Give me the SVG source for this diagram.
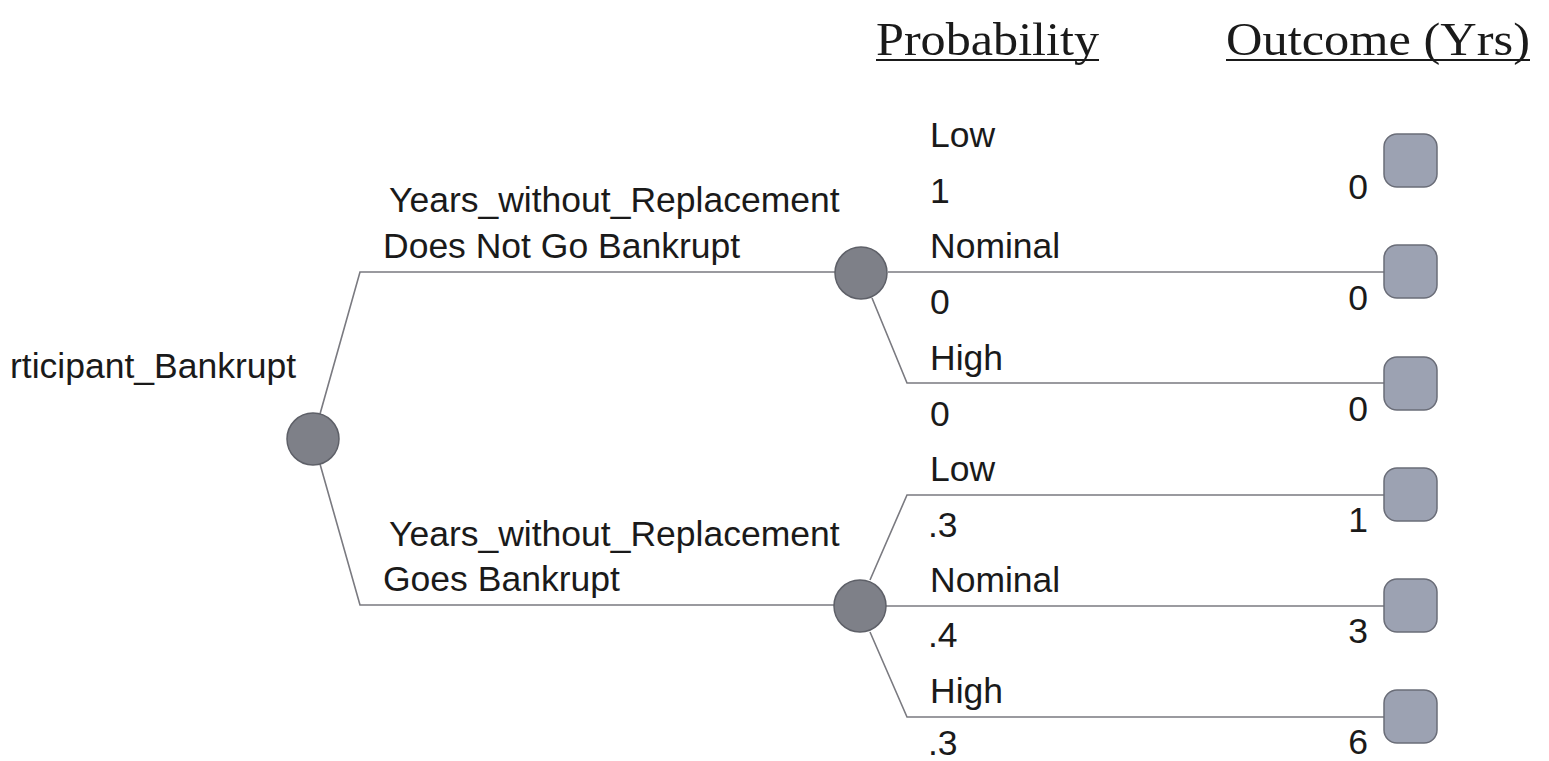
<svg xmlns="http://www.w3.org/2000/svg" width="1549" height="761" viewBox="0 0 1549 761">
  <style>
    .lbl { font-family: "Liberation Sans", Arial, sans-serif; font-size: 35.5px; fill: #1a1a1a; }
    .val { font-family: "Liberation Sans", Arial, sans-serif; font-size: 35.5px; fill: #1a1a1a; text-anchor: end; }
    .hdr { font-family: "Liberation Serif", "Times New Roman", serif; font-size: 47px; fill: #1a1a1a; }
    .edge { fill: none; stroke: #7a7a80; stroke-width: 1.6; }
    .chance { fill: #7e8088; stroke: #5e6068; stroke-width: 1.5; }
    .leaf { fill: #9ca2b2; stroke: #6a6d78; stroke-width: 1.5; }
    .rule { stroke: #1a1a1a; stroke-width: 2; }
  </style>
  <rect width="1549" height="761" fill="#ffffff"/>

  <!-- column headings -->
  <g id="headings">
    <text class="hdr" x="876" y="55" textLength="223" lengthAdjust="spacingAndGlyphs">Probability</text>
    <line class="rule" x1="876" y1="60" x2="1099" y2="60"/>
    <text class="hdr" x="1226" y="55" textLength="304" lengthAdjust="spacingAndGlyphs">Outcome (Yrs)</text>
    <line class="rule" x1="1226" y1="60" x2="1530" y2="60"/>
  </g>

  <!-- branches -->
  <g id="connectors">
    <polyline class="edge" points="320,414 360,272 836,272"/>
    <polyline class="edge" points="320,464 360,605 836,605"/>
    <line class="edge" x1="888" y1="272" x2="1384" y2="272"/>
    <polyline class="edge" points="872,298 907,383 1384,383"/>
    <polyline class="edge" points="870,580 907,495 1384,495"/>
    <line class="edge" x1="886" y1="606" x2="1384" y2="606"/>
    <polyline class="edge" points="870,632 907,717 1384,717"/>
  </g>

  <!-- root chance node -->
  <g id="root">
    <text class="lbl" x="10" y="378">rticipant_Bankrupt</text>
    <circle class="chance" cx="313" cy="439" r="26" fill="#8a9099"/>
  </g>

  <!-- first-level branch labels -->
  <g id="branch-no-bankrupt">
    <text class="lbl" x="389" y="212">Years_without_Replacement</text>
    <text class="lbl" x="383" y="258">Does Not Go Bankrupt</text>
    <circle class="chance" cx="861" cy="273" r="26"/>
  </g>
  <g id="branch-bankrupt">
    <text class="lbl" x="389" y="546">Years_without_Replacement</text>
    <text class="lbl" x="383" y="591">Goes Bankrupt</text>
    <circle class="chance" cx="860" cy="606" r="26"/>
  </g>

  <!-- outcome leaves, upper group -->
  <g id="leaf-1">
    <text class="lbl" x="930" y="147">Low</text>
    <text class="lbl" x="930" y="203">1</text>
    <text class="val" x="1368" y="199">0</text>
    <rect class="leaf" x="1384" y="134" width="53" height="53" rx="13"/>
  </g>
  <g id="leaf-2">
    <text class="lbl" x="930" y="258">Nominal</text>
    <text class="lbl" x="930" y="314">0</text>
    <text class="val" x="1368" y="310">0</text>
    <rect class="leaf" x="1384" y="245" width="53" height="53" rx="13"/>
  </g>
  <g id="leaf-3">
    <text class="lbl" x="930" y="370">High</text>
    <text class="lbl" x="930" y="426">0</text>
    <text class="val" x="1368" y="421">0</text>
    <rect class="leaf" x="1384" y="357" width="53" height="53" rx="13"/>
  </g>

  <!-- outcome leaves, lower group -->
  <g id="leaf-4">
    <text class="lbl" x="930" y="481">Low</text>
    <text class="lbl" x="928" y="537">.3</text>
    <text class="val" x="1368" y="532">1</text>
    <rect class="leaf" x="1384" y="468" width="53" height="53" rx="13"/>
  </g>
  <g id="leaf-5">
    <text class="lbl" x="930" y="592">Nominal</text>
    <text class="lbl" x="928" y="647">.4</text>
    <text class="val" x="1368" y="643">3</text>
    <rect class="leaf" x="1384" y="579" width="53" height="53" rx="13"/>
  </g>
  <g id="leaf-6">
    <text class="lbl" x="930" y="703">High</text>
    <text class="lbl" x="928" y="755">.3</text>
    <text class="val" x="1368" y="754">6</text>
    <rect class="leaf" x="1384" y="690" width="53" height="53" rx="13"/>
  </g>
</svg>
